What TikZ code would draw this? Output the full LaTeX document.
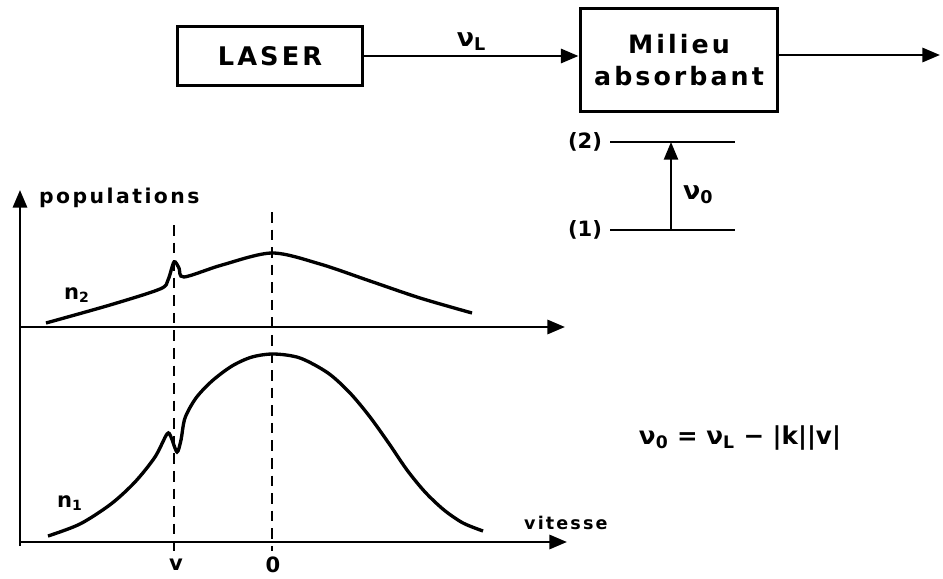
\documentclass[tikz,border=0pt]{standalone}
\usepackage{fontspec}
\setmainfont{DejaVu Sans}
\newfontfamily\espace[LetterSpace=12]{DejaVu Sans}
\usetikzlibrary{arrows.meta,positioning}

\tikzset{
  bloc/.style={draw, line width=1.7pt, align=center},
  fleche/.style={line width=1.6pt, -{Triangle[length=10pt,width=8pt]}},
  axe/.style={line width=1.6pt, -{Triangle[length=10pt,width=8pt]}},
  courbe/.style={line width=1.9pt, smooth, tension=0.5},
  repere/.style={line width=0.9pt, dash pattern=on 6pt off 4pt},
  niveau/.style={line width=1.7pt},
  etiq/.style={font=\espace\bfseries},
  sym/.style={font=\bfseries\large}
}

\begin{document}
\begin{tikzpicture}[x=0.02cm, y=-0.02cm]
\useasboundingbox (0,0) rectangle (943,578);

% Montage : laser et milieu absorbant
\node[bloc, minimum width=3.72cm, minimum height=1.18cm,
      font=\espace\bfseries\fontsize{14.6}{18}\selectfont] (laser) at (270,56) {LASER};
\node[bloc, minimum width=3.96cm, minimum height=2.06cm,
      font=\espace\bfseries\fontsize{14.4}{18}\selectfont] (milieu) at (679,60) {Milieu\\absorbant};
\coordinate (sortie) at (940,55);
\draw[fleche] (laser.east) -- (milieu.west |- laser.east)
  node[midway, above=-1pt, font=\bfseries\Large] (nuL) {ν\textsubscript{L}};
\draw[fleche] (milieu.east |- sortie) -- (sortie);

% Niveaux d'energie
\coordinate (n2g) at (610,142);
\coordinate (n2d) at (735,142);
\coordinate (n1g) at (610,230);
\coordinate (n1d) at (735,230);
\draw[niveau] (n2g) -- (n2d);
\draw[niveau] (n1g) -- (n1d);
\node[sym, left=1pt of n2g] (lab2) {(2)};
\node[sym, left=1pt of n1g] (lab1) {(1)};
\coordinate (tr1) at (671,230);
\coordinate (tr2) at (671,142);
\draw[fleche, line width=1.1pt] (tr1) -- (tr2)
  node[pos=0.4, right=3pt, font=\bfseries\Large] (nu0) {ν\textsubscript{0}};

% Axes
\coordinate (origine) at (20,546);
\coordinate (haut) at (20,190);
\coordinate (ax2g) at (20,327);
\coordinate (ax2d) at (565,327);
\coordinate (ax1g) at (20,542);
\coordinate (ax1d) at (567,542);
\draw[axe] (origine) -- (haut);
\draw[axe] (ax2g) -- (ax2d);
\draw[axe] (ax1g) -- (ax1d);
\node[etiq, font=\espace\bfseries\fontsize{11.6}{14}\selectfont, anchor=west] (pop) at (33,198) {populations};
\node[etiq, anchor=west] (vit) at (518,523) {vitesse};

% Reperes v et 0
\draw[repere] (174,225) -- (174,551);
\draw[repere] (272,212) -- (272,551);
\node[sym] (labv) at (176,565) {v};
\node[sym] (lab0) at (273,565) {0};

% Courbe n2
\draw[courbe] plot coordinates {(46,323) (110,305) (160,289) (168,280) (174,262)
  (179,268) (184,277) (222,265) (272,253) (320,264) (370,281) (420,298) (472,313)};
\node[sym] (labn2) at (77,295) {n\textsubscript{2}};

% Courbe n1
\draw[courbe] plot coordinates {(48,536) (80,524) (111,504) (135,482) (155,457)
  (167,434) (171,437) (177,452) (181,440) (185,418) (196,398) (212,381)
  (232,366) (252,357) (274,354) (300,358) (328,373) (350,393) (370,417)
  (390,445) (407,470) (425,492) (444,510) (463,523) (483,531)};
\node[sym] (labn1) at (70,503) {n\textsubscript{1}};

% Relation
\node[font=\bfseries\fontsize{14}{17}\selectfont] (relation) at (740,438) {ν\textsubscript{0} = ν\textsubscript{L} − |k||v|};

\end{tikzpicture}
\end{document}
